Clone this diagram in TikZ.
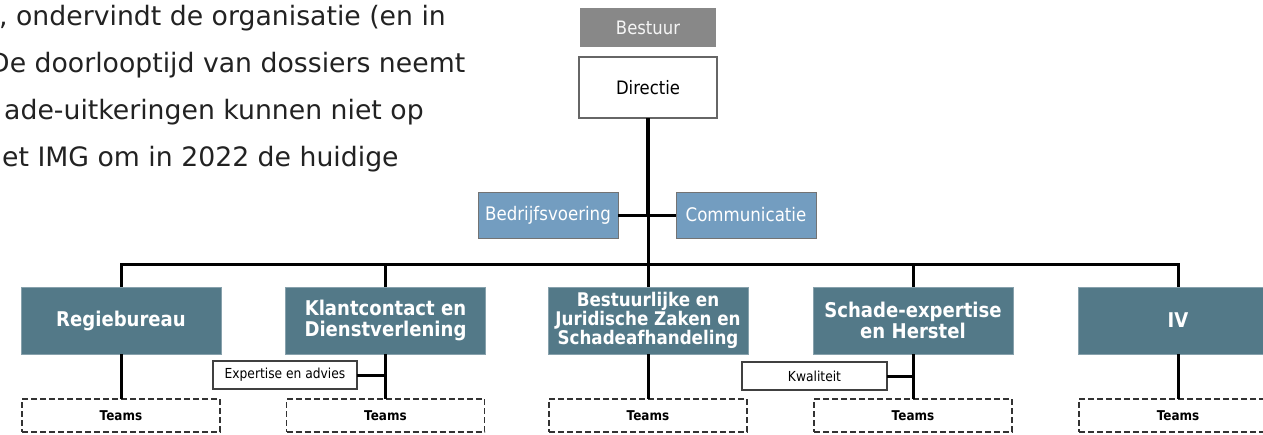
\documentclass[tikz,border=0pt]{standalone}
\usepackage{fontspec}
\setmainfont{DejaVu Sans}
\newfontfamily\chartfont[FakeStretch=0.89]{DejaVu Sans}
\usetikzlibrary{positioning, calc}
\definecolor{deptblue}{RGB}{83,121,136}
\definecolor{staffblue}{RGB}{115,157,192}
\definecolor{boardgray}{RGB}{136,136,136}
\definecolor{bodytext}{RGB}{34,34,34}

\begin{document}
\begin{tikzpicture}[
        x=1pt, y=-1pt,
        bodytxt/.style={anchor=base west, inner sep=0pt, text=bodytext, font=\fontsize{26.7}{47}\selectfont},
        board/.style={rectangle, fill=boardgray, text=white!92!gray, minimum width=136pt, minimum height=39pt, inner sep=0pt, outer sep=0pt, font=\chartfont\fontsize{18.5}{22}\selectfont},
        direction/.style={rectangle, draw=black!60, line width=1.4pt, fill=white, minimum width=138pt, minimum height=61pt, inner sep=0pt, outer sep=0pt, font=\chartfont\fontsize{18.5}{22}\selectfont},
        staff/.style={rectangle, draw=black!55, line width=1pt, fill=staffblue, text=white, minimum width=140pt, minimum height=46pt, inner sep=0pt, outer sep=0pt, font=\chartfont\fontsize{18.7}{22}\selectfont},
        dept/.style={rectangle, fill=deptblue, draw=deptblue!70!white, line width=0.6pt, text=white, minimum width=200pt, minimum height=67pt, align=center, inner sep=0pt, outer sep=0pt, font=\chartfont\fontsize{20.3}{21}\selectfont\bfseries},
        team/.style={rectangle, draw=black!80, dash pattern=on 6pt off 3pt, line width=1.6pt, minimum width=198pt, minimum height=33pt, inner sep=0pt, outer sep=0pt, font=\chartfont\fontsize{13.5}{15}\selectfont\bfseries},
        side/.style={rectangle, draw=black!75, line width=1.5pt, fill=white, minimum height=28pt, inner sep=0pt, outer sep=0pt, font=\chartfont\fontsize{13.8}{15}\selectfont},
        conn/.style={line width=3pt},
        trunk/.style={line width=4.2pt}
    ]
        \clip (0,0) rectangle (1263,434);

        % running text of the page
        \node[bodytxt] (lnA) at (-1,25) {, ondervindt de organisatie (en in};
        \node[bodytxt] (lnB) at (-11,72) {De doorlooptijd van dossiers neemt};
        \node[bodytxt] (lnC) at (4,119) {ade-uitkeringen kunnen niet op};
        \node[bodytxt] (lnD) at (2,166) {et IMG om in 2022 de huidige};

        % top
        \node[board] (bst) at (648,27.5) {Bestuur};
        \node[direction] (dir) at (648,87.5) {Directie};
        \node[staff] (bv) at (548,215) {Bedrijfsvoering};
        \node[staff] (cm) at (746,215) {Communicatie};

        % departments
        \node[dept] (rb) at (121,320.5) {Regiebureau};
        \node[dept] (kc) at (385.5,320.5) {Klantcontact en\\Dienstverlening};
        \node[dept, font=\chartfont\fontsize{18.8}{19}\selectfont\bfseries] (bj) at (648,320.5) {Bestuurlijke en\\Juridische Zaken en\\Schadeafhandeling};
        \node[dept] (se) at (913,320.5) {Schade-expertise\\en Herstel};
        \node[dept] (iv) at (1178,320.5) {IV};

        \node[team, below=45pt of rb] (rbteam) {Teams};
        \node[team, below=45pt of kc] (kcteam) {Teams};
        \node[team, below=45pt of bj] (bjteam) {Teams};
        \node[team, below=45pt of se] (seteam) {Teams};
        \node[team, below=45pt of iv] (ivteam) {Teams};

        \node[side, minimum width=144pt] (exp) at (285,375) {Expertise en advies};
        \node[side, minimum width=145pt] (kwal) at (814.5,376) {Kwaliteit};

        % lines
        \coordinate (mid) at (dir.south |- bv.east);
        \coordinate (bus) at (648,264);
        \draw[trunk] (dir.south) -- (mid);
        \draw[conn] (bv.east) -- (cm.west);
        \draw[conn] (mid) -- (bj.north);
        \draw[conn] (rb.north) |- (bus) -| (iv.north);
        \draw[conn] (kc.north) -- (kc.north |- bus);
        \draw[conn] (se.north) -- (se.north |- bus);

        \draw[conn] (rb.south) -- (rbteam.north);
        \draw[conn] (kc.south) -- (kcteam.north);
        \draw[conn] (bj.south) -- (bjteam.north);
        \draw[conn] (se.south) -- (seteam.north);
        \draw[conn] (iv.south) -- (ivteam.north);
        \draw[conn] (exp.east) -- (exp.east -| kc.south);
        \draw[conn] (kwal.east) -- (kwal.east -| se.south);
\end{tikzpicture}
\end{document}
